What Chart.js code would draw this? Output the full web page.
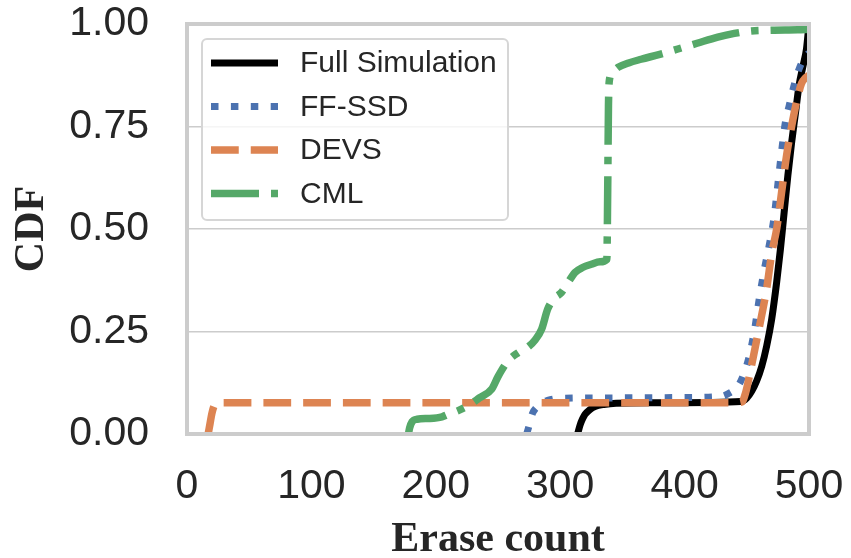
<!DOCTYPE html>
<html>
<head>
<meta charset="utf-8">
<script src="https://cdn.jsdelivr.net/npm/chart.js@4.4.1/dist/chart.umd.min.js"></script>
<style>
  html, body { margin: 0; padding: 0; background: #fff; }
  #wrap { width: 851px; height: 558px; }
</style>
</head>
<body>
<div id="wrap"><canvas id="cdfChart" width="851" height="558"></canvas></div>
<script>
// Erase count CDF per simulation method
const xTicks = [0, 100, 200, 300, 400, 500];
const yTicks = [0, 0.25, 0.5, 0.75, 1.0];

const fullSimX = [314, 316, 318, 320, 324, 328, 335, 345, 380, 420, 445, 450, 454, 458, 462, 466, 470, 474, 477, 480, 483, 486, 489, 492, 495, 498, 500];
const fullSimY = [0, 0.022, 0.037, 0.048, 0.06, 0.067, 0.072, 0.075, 0.076, 0.077, 0.079, 0.088, 0.105, 0.13, 0.165, 0.215, 0.28, 0.37, 0.45, 0.54, 0.63, 0.71, 0.78, 0.85, 0.895, 0.94, 1.0];

const ffssdX = [273, 274.5, 276, 278, 281, 285, 290, 300, 330, 400, 430, 436, 440, 444, 448, 452, 456, 460, 464, 468, 472, 475, 478, 481, 484, 488, 492, 496, 500];
const ffssdY = [0, 0.015, 0.033, 0.052, 0.065, 0.075, 0.082, 0.087, 0.088, 0.089, 0.092, 0.1, 0.108, 0.122, 0.15, 0.19, 0.25, 0.33, 0.4, 0.46, 0.53, 0.61, 0.69, 0.76, 0.8, 0.85, 0.89, 0.915, 0.93];

const devsX = [17, 18.5, 20, 22, 25, 100, 300, 440, 446, 449, 452, 455, 458, 462, 466, 470, 474, 478, 482, 486, 490, 494, 497, 500];
const devsY = [0, 0.025, 0.05, 0.07, 0.076, 0.076, 0.076, 0.076, 0.078, 0.1, 0.14, 0.185, 0.23, 0.29, 0.355, 0.44, 0.5, 0.59, 0.68, 0.75, 0.81, 0.855, 0.868, 0.875];

const cmlX = [178, 179, 181, 185, 195, 205, 210, 218, 226, 235, 245, 250, 258, 266, 274, 280, 285, 290, 295, 301, 306, 312, 318, 325, 332, 337.5, 338.2, 338.8, 339.5, 342, 346.4, 355, 365, 380, 394.6, 410, 426.7, 440, 453.5, 470, 491, 500];
const cmlY = [0, 0.015, 0.03, 0.036, 0.038, 0.042, 0.048, 0.057, 0.069, 0.088, 0.11, 0.14, 0.178, 0.198, 0.212, 0.23, 0.255, 0.305, 0.33, 0.345, 0.368, 0.394, 0.406, 0.414, 0.42, 0.426, 0.6, 0.8, 0.862, 0.882, 0.894, 0.905, 0.914, 0.926, 0.939, 0.953, 0.968, 0.977, 0.983, 0.985, 0.986, 0.987];

const seriesNames = ['Full Simulation', 'FF-SSD', 'DEVS', 'CML'];

function toPoints(xs, ys) {
  return xs.map((x, i) => ({ x: x, y: ys[i] }));
}

const textColor = '#262626';
const gridColor = '#cccccc';

// axes frame, drawn above the lines like matplotlib spines
const framePlugin = {
  id: 'frame',
  afterDatasetsDraw(chart) {
    const a = chart.chartArea;
    const ctx = chart.ctx;
    ctx.save();
    ctx.strokeStyle = gridColor;
    ctx.lineWidth = 4;
    ctx.strokeRect(a.left, a.top, a.right - a.left, a.bottom - a.top);
    ctx.restore();
  }
};

// legend box in upper left corner of the plot
const boxLegend = {
  id: 'boxLegend',
  afterDraw(chart) {
    const a = chart.chartArea;
    const ctx = chart.ctx;
    const bx = a.left + 15, by = a.top + 15, bw = 306, bh = 181;
    ctx.save();
    ctx.beginPath();
    ctx.roundRect(bx, by, bw, bh, 5);
    ctx.fillStyle = 'rgba(255,255,255,0.8)';
    ctx.fill();
    ctx.strokeStyle = '#d6d6d6';
    ctx.lineWidth = 2;
    ctx.stroke();

    ctx.font = '30px "Liberation Sans", Arial, sans-serif';
    ctx.textBaseline = 'middle';
    ctx.textAlign = 'left';
    chart.data.datasets.forEach((ds, i) => {
      const y = by + 24 + i * 43.5;
      ctx.beginPath();
      ctx.setLineDash(ds.borderDash || []);
      ctx.strokeStyle = ds.borderColor;
      ctx.lineWidth = ds.borderWidth;
      ctx.lineCap = 'butt';
      ctx.moveTo(bx + 9, y);
      ctx.lineTo(bx + 76, y);
      ctx.stroke();
      ctx.setLineDash([]);
      ctx.fillStyle = textColor;
      ctx.fillText(ds.label, bx + 98, y + 1);
    });
    ctx.restore();
  }
};

new Chart(document.getElementById('cdfChart'), {
  type: 'line',
  data: {
    datasets: [
      {
        label: seriesNames[0],
        data: toPoints(fullSimX, fullSimY),
        borderColor: '#000000',
        borderWidth: 7,
        order: 4
      },
      {
        label: seriesNames[1],
        data: toPoints(ffssdX, ffssdY),
        borderColor: '#4c72b0',
        borderWidth: 7,
        borderDash: [7.5, 12.4],
        order: 3
      },
      {
        label: seriesNames[2],
        data: toPoints(devsX, devsY),
        borderColor: '#dd8452',
        borderWidth: 7.5,
        borderDash: [27.75, 12],
        order: 2
      },
      {
        label: seriesNames[3],
        data: toPoints(cmlX, cmlY),
        borderColor: '#55a868',
        borderWidth: 7.5,
        borderDash: [48, 12, 7.5, 12],
        order: 1
      }
    ]
  },
  options: {
    responsive: false,
    animation: false,
    clip: 0,
    layout: { padding: { top: 24, right: 42, left: 0, bottom: 0 } },
    elements: {
      point: { radius: 0 },
      line: { cubicInterpolationMode: 'monotone', fill: false, borderCapStyle: 'butt' }
    },
    plugins: {
      legend: { display: false },
      tooltip: { enabled: false }
    },
    scales: {
      x: {
        type: 'linear',
        min: 0,
        max: 500,
        afterBuildTicks: s => { s.ticks = xTicks.map(v => ({ value: v })); },
        afterFit: s => { s.height = 124; s.paddingLeft = 0; s.paddingRight = 0; },
        grid: { display: false },
        border: { display: false },
        ticks: {
          color: textColor,
          padding: 20,
          maxRotation: 0,
          font: { family: '"Liberation Sans", Arial, sans-serif', size: 41, lineHeight: 1.2 }
        },
        title: {
          display: true,
          text: 'Erase count',
          color: textColor,
          padding: { top: 0, bottom: -3 },
          font: { family: '"Liberation Serif", "Times New Roman", serif', size: 42, weight: 'bold', lineHeight: 1.0 }
        }
      },
      y: {
        type: 'linear',
        min: 0,
        max: 1,
        afterBuildTicks: s => { s.ticks = yTicks.map(v => ({ value: v })); },
        afterFit: s => { s.width = 187; s.paddingTop = 0; s.paddingBottom = 0; },
        grid: { color: gridColor, lineWidth: 1.5, drawTicks: false },
        border: { display: false },
        ticks: {
          color: textColor,
          padding: 38,
          callback: v => v.toFixed(2),
          font: { family: '"Liberation Sans", Arial, sans-serif', size: 41 }
        },
        title: {
          display: true,
          text: 'CDF',
          color: textColor,
          padding: { top: 7, bottom: 0 },
          font: { family: '"Liberation Serif", "Times New Roman", serif', size: 42, weight: 'bold', lineHeight: 1.2 }
        }
      }
    }
  },
  plugins: [framePlugin, boxLegend]
});
</script>
</body>
</html>
